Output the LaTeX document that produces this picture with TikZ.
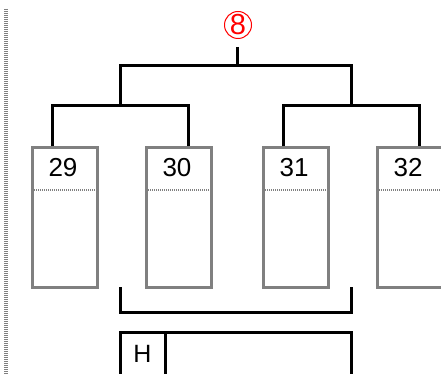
\documentclass[tikz,border=0pt]{standalone}
\usepackage{fontspec}
\setmainfont{Liberation Sans}
\definecolor{boxgray}{RGB}{128,128,128}
\definecolor{markred}{RGB}{255,0,0}
\begin{document}
\begin{tikzpicture}[x=1pt,y=-1pt,
  slot/.style={draw=boxgray, line width=3pt, minimum width=65pt, minimum height=139pt, inner sep=0pt, anchor=north west},
  num/.style={font=\fontsize{26}{30}\selectfont, inner sep=0pt},
  tree/.style={draw=black, line width=3pt},
  divider/.style={draw=boxgray, line width=1.5pt, dash pattern=on 1pt off 1pt},
  margin/.style={draw=boxgray, line width=4pt, dash pattern=on 1pt off 1pt},
  circlemark/.style={circle, draw=markred, line width=1pt, text=markred, minimum size=27pt, inner sep=0pt, font=\fontsize{29}{32}\selectfont}]
\useasboundingbox (0,0) rectangle (441,374);
% left dashed margin line
\coordinate (mtop) at (6,9);
\coordinate (mbot) at (6,376);
\draw[margin] (mtop) -- (mbot);
% circled mark
\node[circlemark] (mark) at (238,25) {8};
% boxes
\node[slot] (b29) at (30.5,146.5) {};
\node[slot] (b30) at (144.5,146.5) {};
\node[slot] (b31) at (261.5,146.5) {};
\node[slot] (b32) at (375.5,146.5) {};
\node[num] (t29) at (63,167.5) {29};
\node[num] (t30) at (177,167.5) {30};
\node[num] (t31) at (294,167.5) {31};
\node[num] (t32) at (408,167.5) {32};
% dotted dividers
\coordinate (dv) at (0,190);
\foreach \b in {b29,b30,b31,b32}
  \draw[divider, shorten <=1.5pt, shorten >=1.5pt] (\b.west |- dv) -- (\b.east |- dv);
% tree
\coordinate (k1) at (52,106);
\coordinate (k2) at (188,106);
\coordinate (k3) at (283,106);
\coordinate (k4) at (419,106);
\coordinate (m1) at (120,106);
\coordinate (m2) at (351,106);
\coordinate (stemtop) at (237,47);
\coordinate (stembot) at (237,66);
\draw[tree] (b29.north -| k1) -- (k1) -- (k2) -- (b30.north -| k2);
\draw[tree] (b31.north -| k3) -- (k3) -- (k4) -- (b32.north -| k4);
\draw[tree] (m1) -- (m1 |- stembot) -- (m2 |- stembot) -- (m2);
\draw[tree] (stemtop) -- (stembot);
% bottom bracket
\coordinate (br1) at (120,287);
\coordinate (br2) at (351,287);
\coordinate (brl) at (0,312);
\draw[tree] (br1) -- (br1 |- brl) -- (br2 |- brl) -- (br2);
% bottom box
\coordinate (bb1) at (120,378);
\coordinate (bb2) at (351,378);
\coordinate (bbt) at (0,332);
\draw[tree] (bb1) -- (bb1 |- bbt) -- (bb2 |- bbt) -- (bb2);
\coordinate (hd) at (165,378);
\draw[tree] (hd) -- (hd |- bbt);
\node[num, font=\fontsize{25}{28}\selectfont] (h) at (142.5,354) {H};
\end{tikzpicture}
\end{document}
